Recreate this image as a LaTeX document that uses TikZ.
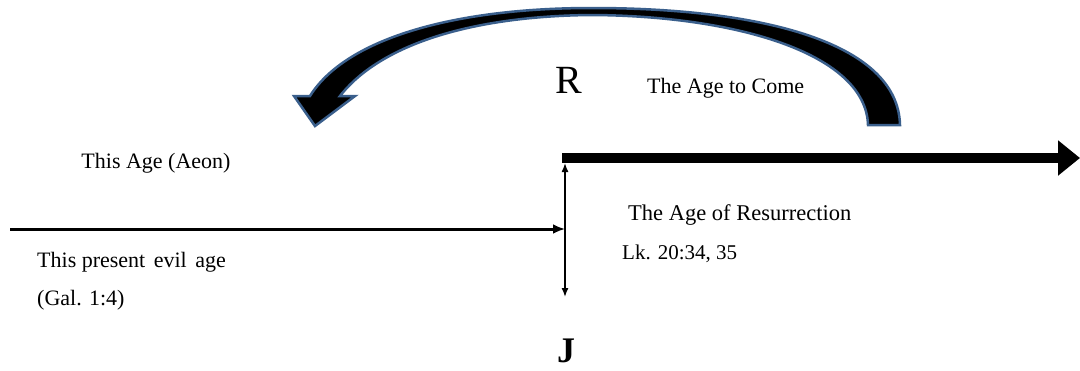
\documentclass[tikz,border=0pt]{standalone}
\usepackage{fontspec}
\setmainfont{Liberation Serif}
\usetikzlibrary{arrows.meta}
\definecolor{arcblue}{RGB}{58,95,140}
\begin{document}
\begin{tikzpicture}[x=1pt,y=-1pt,
  lbl/.style={inner sep=0pt,font=\fontsize{22}{26}\selectfont},
  dbl/.style={line width=1.4pt,{Latex[length=9pt,width=7pt]}-{Latex[length=9pt,width=7pt]}},
  midline/.style={line width=3pt,-{Latex[length=12pt,width=10pt]}}]
\useasboundingbox (0,0) rectangle (1080,370);
% curved block arrow
\filldraw[fill=black,draw=arcblue,line width=2.5pt,line join=miter]
  (900,125) .. controls (898,42) and (760,8) .. (592,8)
  .. controls (450,8) and (345,40) .. (310,96)
  -- (294,96) -- (315,126) -- (355,96) -- (340,96)
  .. controls (380,45) and (470,16) .. (592,15)
  .. controls (740,16) and (866,55) .. (868,125) -- cycle;
% coordinates
\coordinate (L) at (10,229);
\coordinate (M) at (565,229);
\coordinate (Jtop) at (565,163);
\coordinate (Jbot) at (565,297);
\coordinate (Tstart) at (562,158);
\coordinate (Tend) at (1080,158);
% lines
\draw[midline] (L) -- (M);
\draw[dbl] (Jtop) -- (Jbot);
\draw[line width=10.5pt,-{Triangle[length=22pt,width=34pt]}] (Tstart) -- (Tend);
% labels
\node[inner sep=0pt,font=\fontsize{40}{44}\selectfont] (R) at (569,80) {R};
\node[lbl,anchor=west] (come) at (647,88) {The Age to Come};
\node[lbl] (thisage) at (156,163) {This Age (Aeon)};
\node[lbl,anchor=west,font=\fontsize{22.5}{26}\selectfont] (resur) at (628,215) {The Age of Resurrection};
\node[lbl,anchor=west,font=\fontsize{21}{25}\selectfont] (lk) at (622,254) {Lk. 20:34, 35};
\node[lbl,anchor=west] (evil) at (37,262) {This present\hspace{3pt} evil\hspace{3pt} age};
\node[lbl,anchor=west] (gal) at (37,300) {(Gal. 1:4)};
\node[inner sep=0pt,font=\bfseries\fontsize{36}{40}\selectfont] (J) at (566,351) {J};
\end{tikzpicture}
\end{document}
